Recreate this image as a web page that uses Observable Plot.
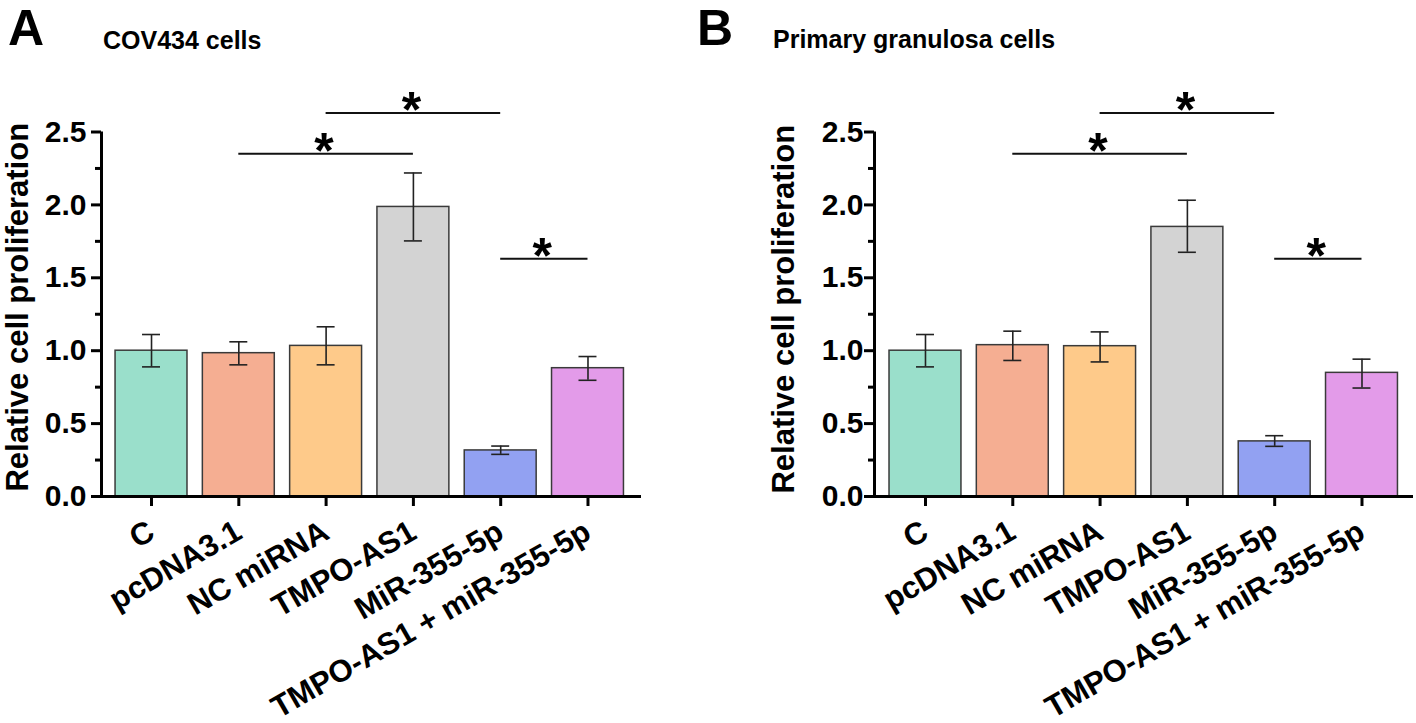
<!DOCTYPE html>
<html><head><meta charset="utf-8">
<script src="https://cdn.jsdelivr.net/npm/d3@7"></script>
<script src="https://cdn.jsdelivr.net/npm/@observablehq/plot@0.6"></script>
<style>
html,body{margin:0;padding:0;background:#fff;}
body{width:1416px;height:723px;position:relative;overflow:hidden;font-family:"Liberation Sans",Arial,sans-serif;}
.lbl{position:absolute;font-weight:bold;line-height:1;white-space:nowrap;color:#000;}
.big{line-height:1.1;}
.panel{position:absolute;}
</style></head><body>
<div class="lbl big" style="left:8px;top:1px;font-size:50px">A</div>
<div class="lbl" style="left:103px;top:28px;font-size:25px">COV434 cells</div>
<div class="lbl big" style="left:697px;top:1px;font-size:50px">B</div>
<div class="lbl" style="left:773px;top:27px;font-size:25px">Primary granulosa cells</div>
<div id="pa" class="panel" style="left:0;top:60px"></div>
<div id="pb" class="panel" style="left:700px;top:60px"></div>
<script>
const categories = ["C", "pcDNA3.1", "NC miRNA", "TMPO-AS1", "MiR-355-5p", "TMPO-AS1 + miR-355-5p"];
const colors = ["#9ADFCB", "#F5AE92", "#FECA8A", "#D3D3D3", "#92A1F2", "#E39BE9"];
const yTitle = "Relative cell proliferation";
const majorTicks = [0, 0.5, 1.0, 1.5, 2.0, 2.5];
const minorTicks = [0.25, 0.75, 1.25, 1.75, 2.25];

// Panel A: COV434 cells
const meanA = [1.00, 0.983, 1.033, 1.986, 0.316, 0.880];
const hiA   = [1.111, 1.061, 1.164, 2.219, 0.346, 0.960];
const loA   = [0.889, 0.903, 0.903, 1.753, 0.289, 0.797];
// Panel B: Primary granulosa cells
const meanB = [1.00, 1.038, 1.031, 1.849, 0.378, 0.848];
const hiB   = [1.111, 1.134, 1.129, 2.032, 0.417, 0.942];
const loB   = [0.889, 0.933, 0.923, 1.675, 0.344, 0.744];

// significance brackets (category index from/to, level)
const sigFrom = [1, 2, 4];
const sigTo   = [3, 4, 5];
const sigLevelA = [2.351, 2.630, 1.631];
const sigLevelB = [2.351, 2.630, 1.631];

const FONT = "Liberation Sans, Arial, sans-serif";

function makePanel({mean, hi, lo, sigLevel, width, marginLeft, marginRight, xDomain, tickPadding, titleDx, titleDy}) {
  const rows = categories.map((c, i) => ({cat: c, i, mean: mean[i], hi: hi[i], lo: lo[i]}));
  const sig = sigFrom.map((f, k) => ({from: f, to: sigTo[k], level: sigLevel[k]}));
  const hw = 0.412, cap = 0.103;
  return Plot.plot({
    width, height: 663,
    marginLeft, marginRight, marginTop: 71.5, marginBottom: 227,
    style: {fontFamily: FONT, background: "transparent", overflow: "visible"},
    x: {domain: xDomain, axis: null, label: null},
    y: {domain: [0, 2.5], axis: null, label: null},
    color: {domain: categories, range: colors},
    marks: [
      Plot.rectY(rows, {x1: d => d.i - hw, x2: d => d.i + hw, y1: () => 0, y2: "mean", fill: "cat", stroke: "#3a3a3a", strokeWidth: 1.5}),
      Plot.ruleX(rows, {x: "i", y1: "lo", y2: "hi", stroke: "#222", strokeWidth: 1.6}),
      Plot.ruleY(rows, {y: "hi", x1: d => d.i - cap, x2: d => d.i + cap, stroke: "#222", strokeWidth: 1.6}),
      Plot.ruleY(rows, {y: "lo", x1: d => d.i - cap, x2: d => d.i + cap, stroke: "#222", strokeWidth: 1.6}),
      // axes
      Plot.axisY({ticks: majorTicks, tickSize: 10, tickPadding, strokeWidth: 3, tickFormat: d3.format(".1f"), fontSize: 30, fontWeight: "bold", label: null}),
      Plot.axisY({ticks: minorTicks, tickSize: 6, strokeWidth: 3, tickFormat: () => "", label: null}),
      Plot.axisX({ticks: [0, 1, 2, 3, 4, 5], tickSize: 10, strokeWidth: 3, tickFormat: () => "", label: null}),
      Plot.ruleX([xDomain[0]], {y1: () => 0, y2: () => 2.5, strokeWidth: 3, stroke: "#000"}),
      Plot.ruleY([0], {x1: () => xDomain[0], x2: () => xDomain[1], strokeWidth: 3, stroke: "#000"}),
      Plot.text(rows, {x: "i", y: () => 0, text: "cat", rotate: -30, textAnchor: "end", lineAnchor: "bottom", dx: 5, dy: 41, fontSize: 31, fontWeight: "bold", fill: "#000"}),
      Plot.text([yTitle], {frameAnchor: "left", text: d => d, rotate: -90, textAnchor: "middle", lineAnchor: "middle", dx: titleDx, dy: titleDy, fontSize: 31, fontWeight: "bold", fill: "#000"}),
      // significance
      Plot.ruleY(sig, {y: "level", x1: "from", x2: "to", stroke: "#111", strokeWidth: 2}),
      Plot.text(sig, {x: d => (d.from + d.to) / 2, y: "level", text: () => "*", fontSize: 50, fontWeight: "bold", lineAnchor: "bottom", dx: -2, dy: 14, fill: "#000"})
    ]
  });
}

document.getElementById("pa").appendChild(makePanel({
  mean: meanA, hi: hiA, lo: loA, sigLevel: sigLevelA,
  width: 700, marginLeft: 101, marginRight: 59, xDomain: [-0.573, 5.613],
  tickPadding: 5, titleDx: -83, titleDy: -7
}));
document.getElementById("pb").appendChild(makePanel({
  mean: meanB, hi: hiB, lo: loB, sigLevel: sigLevelB,
  width: 716, marginLeft: 174, marginRight: 3, xDomain: [-0.584, 5.59],
  tickPadding: 1, titleDx: -90, titleDy: -5
}));
</script>
</body></html>
